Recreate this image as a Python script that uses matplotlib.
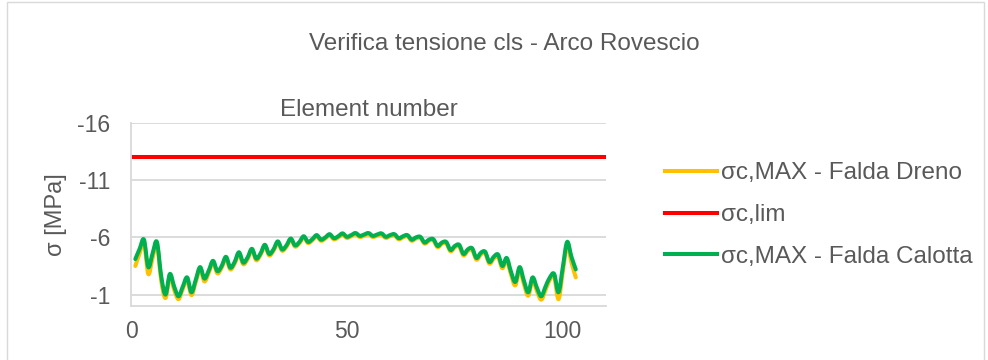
import matplotlib
matplotlib.use('Agg')
import matplotlib.pyplot as plt
from matplotlib.patches import Rectangle, PathPatch
from matplotlib.path import Path
from matplotlib.lines import Line2D

plt.rcParams['font.family'] = ['Liberation Sans', 'DejaVu Sans']
plt.rcParams['axes.unicode_minus'] = False

# element numbers 1..103
elements = list(range(1, 104))

# sigma c,MAX - Falda Calotta (green)
sigma_calotta = [
    -4.1, -5.0, -5.8, -3.4, -4.6, -5.6, -2.6, -1.0, -2.8, -1.7,
    -0.85, -1.7, -2.5, -1.2, -2.3, -3.4, -2.4, -3.1, -3.95, -3.05,
    -3.5, -4.3, -3.35, -3.85, -4.7, -3.8, -4.25, -5.0, -4.15, -4.6,
    -5.35, -4.55, -4.95, -5.65, -4.95, -5.3, -5.9, -5.3, -5.6, -6.1,
    -5.6, -5.85, -6.2, -5.8, -6.0, -6.28, -5.93, -6.1, -6.35, -6.05,
    -6.2, -6.38, -6.13, -6.25, -6.38, -6.13, -6.25, -6.35, -6.05, -6.2,
    -6.28, -5.93, -6.1, -6.2, -5.8, -6.0, -6.05, -5.55, -5.8, -5.85,
    -5.25, -5.55, -5.6, -4.9, -5.25, -5.35, -4.55, -4.95, -5.05, -4.2,
    -4.65, -4.75, -3.85, -4.3, -4.5, -3.5, -4.2, -3.0, -2.1, -3.4,
    -2.2, -1.2, -2.5, -1.6, -0.85, -1.7, -2.5, -2.8, -1.2, -3.4,
    -5.6, -4.3, -3.2,
]

# sigma c,MAX - Falda Dreno (yellow)
sigma_dreno = [
    -3.5, -4.6, -5.6, -2.8, -4.2, -5.4, -2.2, -0.7, -2.6, -1.4,
    -0.6, -1.5, -2.3, -0.95, -2.1, -3.2, -2.15, -2.9, -3.8, -2.85,
    -3.35, -4.15, -3.2, -3.7, -4.55, -3.65, -4.1, -4.87, -4.0, -4.47,
    -5.22, -4.42, -4.83, -5.53, -4.83, -5.18, -5.79, -5.19, -5.49, -6.0,
    -5.5, -5.75, -6.1, -5.7, -5.9, -6.18, -5.83, -6.0, -6.25, -5.95,
    -6.1, -6.28, -6.03, -6.15, -6.28, -6.03, -6.15, -6.25, -5.95, -6.1,
    -6.18, -5.83, -6.0, -6.1, -5.7, -5.9, -5.95, -5.45, -5.7, -5.74,
    -5.14, -5.44, -5.48, -4.78, -5.13, -5.22, -4.42, -4.82, -4.9, -4.05,
    -4.5, -4.6, -3.7, -4.15, -4.3, -3.3, -4.0, -2.75, -1.8, -3.15,
    -1.9, -0.9, -2.25, -1.3, -0.55, -1.4, -2.3, -2.55, -0.6, -3.0,
    -5.35, -3.8, -2.5,
]

# sigma c,lim
sigma_lim = -13.0

y_ticks = [-16, -11, -6, -1]
x_ticks = [0, 50, 100]

txt = '#595959'
grid = '#d9d9d9'
c_dreno = '#FFC000'
c_lim = '#FF0000'
c_calotta = '#00B050'
lw = 2.9


def smooth_line(ax, xs, ys, color):
    # excel style "smoothed line": bezier segments through the data points
    n = len(xs)
    verts = [(xs[0], ys[0])]
    codes = [Path.MOVETO]
    for i in range(n - 1):
        x0, y0 = xs[max(i - 1, 0)], ys[max(i - 1, 0)]
        x1, y1 = xs[i], ys[i]
        x2, y2 = xs[i + 1], ys[i + 1]
        x3, y3 = xs[min(i + 2, n - 1)], ys[min(i + 2, n - 1)]
        verts += [(x1 + (x2 - x0) / 6, y1 + (y2 - y0) / 6),
                  (x2 - (x3 - x1) / 6, y2 - (y3 - y1) / 6),
                  (x2, y2)]
        codes += [Path.CURVE4] * 3
    ax.add_patch(PathPatch(Path(verts, codes), fill=False, edgecolor=color, lw=lw,
                           joinstyle='round', capstyle='round'))


fig = plt.figure(figsize=(9.88, 3.6), dpi=100)
fig.patches.append(Rectangle((7/988, -0.1), 977/988, 1.1 - 2/360, transform=fig.transFigure,
                             fill=False, edgecolor=grid, lw=1))

ax = fig.add_axes([131/988, 54/360, 475/988, 183/360])
smooth_line(ax, elements, sigma_dreno, c_dreno)
ax.axhline(sigma_lim, color=c_lim, lw=lw)
smooth_line(ax, elements, sigma_calotta, c_calotta)

ax.set_xlim(0, 110)
ax.set_ylim(0, -16)
ax.set_xticks(x_ticks)
ax.set_yticks(y_ticks)
ax.grid(axis='y', color=grid, lw=1.3)
ax.set_axisbelow(True)
for s in ['top', 'right']:
    ax.spines[s].set_visible(False)
for s in ['left', 'bottom']:
    ax.spines[s].set_color(grid)
    ax.spines[s].set_linewidth(1.3)
ax.tick_params(axis='both', length=0, colors=txt, labelsize=16.5)
ax.tick_params(axis='y', pad=15)
ax.tick_params(axis='x', pad=10)

ax.xaxis.set_label_position('top')
ax.set_xlabel('Element number', color=txt, fontsize=17.5, labelpad=5)
ax.set_ylabel('σ [MPa]', color=txt, fontsize=17)
ax.yaxis.set_label_coords(-0.135, 0.5)

fig.text(504/988, 1 - 44/360, 'Verifica tensione cls - Arco Rovescio', ha='center', va='center',
         color=txt, fontsize=17.5)

handles = [Line2D([], [], color=c_dreno, lw=lw),
           Line2D([], [], color=c_lim, lw=lw),
           Line2D([], [], color=c_calotta, lw=lw)]
labels = ['σc,MAX - Falda Dreno', 'σc,lim', 'σc,MAX - Falda Calotta']
fig.legend(handles, labels, loc='center left', bbox_to_anchor=(665/988, 1 - 215/360),
           frameon=False, fontsize=17.5, labelcolor=txt, handlelength=2.15, handletextpad=0.17,
           labelspacing=0.82, borderpad=0, borderaxespad=0)

fig.savefig('out.png', dpi=100)
